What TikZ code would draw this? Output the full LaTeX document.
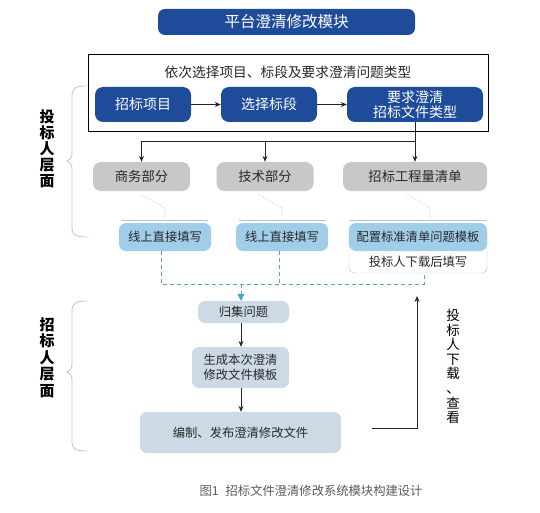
\documentclass[tikz,border=0pt]{standalone}
\usepackage{fontspec}
\setmainfont{Noto Sans CJK SC}
\usetikzlibrary{arrows.meta,calc}
\definecolor{dblue}{RGB}{30,76,154}
\definecolor{gbox}{RGB}{199,200,201}
\definecolor{lblue}{RGB}{160,206,233}
\definecolor{pbox}{RGB}{205,218,230}
\definecolor{brc}{RGB}{178,200,218}
\definecolor{dotc}{RGB}{170,200,220}
\definecolor{cyanarr}{RGB}{60,165,217}
\definecolor{dashc}{RGB}{95,160,204}
\definecolor{txtc}{RGB}{40,40,40}
\tikzset{
  titlebox/.style={fill=dblue,text=white,rounded corners=7pt,inner sep=0pt,font=\fontsize{15.5}{17}\selectfont},
  bluebox/.style={fill=dblue,text=white,rounded corners=8pt,inner sep=0pt,align=center,font=\fontsize{14}{15}\selectfont},
  graybox/.style={fill=gbox,text=txtc,rounded corners=8pt,inner sep=0pt,minimum height=29pt,font=\fontsize{13.3}{15}\selectfont},
  lightbox/.style={fill=lblue,text=txtc,rounded corners=7pt,inner sep=0pt,minimum height=28pt,font=\fontsize{12.3}{14}\selectfont},
  procbox/.style={fill=pbox,text=txtc,rounded corners=7pt,inner sep=0pt,align=center,font=\fontsize{12.3}{15.5}\selectfont},
  arr/.style={draw=black!85,line width=0.9pt,-{Stealth[length=6pt,width=5pt]}},
  dotln/.style={draw=dotc,line width=0.6pt,densely dotted},
  sepln/.style={draw=dotc,line width=0.6pt},
  dashln/.style={draw=dashc,line width=0.8pt,dash pattern=on 4pt off 3pt},
  bracestyle/.style={draw=brc,line width=0.8pt},
  vlabel/.style={align=center,inner sep=0pt,text=black},
}
\begin{document}
\begin{tikzpicture}[x=1pt,y=-1pt]
\useasboundingbox (0,0) rectangle (540,513);
% title
\node[titlebox,minimum width=257pt,minimum height=26pt] (title) at (286.5,22) {平台澄清修改模块};
% outer frame
\node[draw=black,line width=0.8pt,minimum width=400pt,minimum height=77pt,inner sep=0pt] (frame) at (288,92.5) {};
\node[inner sep=0pt,font=\fontsize{13.7}{15}\selectfont,text=txtc] (hdr) at (288,72) {依次选择项目、标段及要求澄清问题类型};
\node[bluebox,minimum width=96pt,minimum height=35pt] (b1) at (143,104.5) {招标项目};
\node[bluebox,minimum width=96pt,minimum height=35pt] (b2) at (269,104.5) {选择标段};
\node[bluebox,minimum width=136pt,minimum height=35pt,font=\fontsize{14}{14.5}\selectfont] (b3) at (415,104.5) {要求澄清\\招标文件类型};
\draw[arr] (b1) -- (b2);
\draw[arr] (b2) -- (b3);
% gray boxes
\node[graybox,minimum width=97pt] (g1) at (141.5,176.5) {商务部分};
\node[graybox,minimum width=97pt] (g2) at (265,176.5) {技术部分};
\node[graybox,minimum width=144pt] (g3) at (415,176.5) {招标工程量清单};
\coordinate (split) at (415,141);
\draw[arr] (b3.south) -- (g3.north);
\draw[line width=0.9pt,draw=black!85] (split) -- (split -| g1.north);
\draw[arr] (split -| g1.north) -- (g1.north);
\draw[arr] (split -| g2.north) -- (g2.north);
% light blue boxes
\node[draw=dotc,fill=white,rounded corners=5pt,minimum width=138pt,minimum height=43pt,inner sep=0pt] (w1) at (418,251.5) {};
\node[lightbox,minimum width=92pt] (l1) at (165,237) {线上直接填写};
\node[lightbox,minimum width=92pt] (l2) at (282,237) {线上直接填写};
\node[lightbox,minimum width=138pt] (l3) at (418,237) {配置标准清单问题模板};
\node[inner sep=0pt,text=txtc,font=\fontsize{12.3}{14}\selectfont] (dl) at (418,262) {投标人下载后填写};
% dotted links and separators
\draw[dotln] ($(g1.south)+(-1,3)$) -- (165,208) -- (165,220);
\draw[dotln] ($(g2.south)+(-7,3)$) -- (282,208) -- (282,220);
\draw[dotln] ($(g3.south)+(-8,3)$) -- (430,208) -- (430,220);
\draw[sepln] (121,220) -- (208,220);
\draw[sepln] (239,220) -- (326,220);
\draw[sepln] (349,220) -- (487,220);
% dashed collection
\coordinate (jn) at (241,284);
\draw[dashln] ([xshift=-4pt]l1.south) -- ([xshift=-4pt]l1.south |- jn) -- ([xshift=6pt]w1.south |- jn) -- ([xshift=6pt]w1.south);
\draw[dashln] ([xshift=-3pt]l2.south) -- ([xshift=-3pt]l2.south |- jn);
% bottom process
\node[procbox,minimum width=91pt,minimum height=22pt] (q1) at (243.5,312) {归集问题};
\node[procbox,minimum width=97pt,minimum height=41pt] (q2) at (240.5,367.5) {生成本次澄清\\修改文件模板};
\node[procbox,minimum width=201pt,minimum height=41pt] (q3) at (240.5,432.5) {编制、发布澄清修改文件};
\draw[dashln,-{Triangle[length=7pt,width=7pt,fill=cyanarr,color=cyanarr]}] (jn) -- (jn |- q1.north);
\draw[arr] (q1.south -| 241,0) -- (q2.north -| 241,0);
\draw[arr] (q2.south -| 241,0) -- (q3.north -| 241,0);
% feedback arrow
\coordinate (fb0) at (372,428);
\coordinate (fb1) at (417,428);
\coordinate (fb2) at (417,296);
\draw[arr,line width=0.8pt] (fb0) -- (fb1) -- (fb2);
\node[vlabel,font=\fontsize{13.5}{14.6}\selectfont] (rl) at (453,366.5) {投\\标\\人\\下\\载\\、\\查\\看};
% braces
\draw[bracestyle] (87,86) .. controls (76,86) and (72,88) .. (72,96) -- (72,153) .. controls (72,158) and (70,160) .. (67,161) .. controls (70,162) and (72,164) .. (72,169) -- (72,228) .. controls (72,235) and (76,237) .. (87,237);
\draw[bracestyle] (87,301) .. controls (76,301) and (72,303) .. (72,311) -- (72,364) .. controls (72,369) and (70,371) .. (67,372) .. controls (70,373) and (72,375) .. (72,380) -- (72,442) .. controls (72,449) and (76,451) .. (87,451);
\node[vlabel,font=\bfseries\fontsize{15}{16}\selectfont] (ll1) at (47,148.5) {投\\标\\人\\层\\面};
\node[vlabel,font=\bfseries\fontsize{15}{16.5}\selectfont] (ll2) at (47,357.5) {招\\标\\人\\层\\面};
% caption
\node[inner sep=0pt,text=black!65,font=\fontsize{12.3}{14}\selectfont] (cap) at (311,491) {图1\hspace{7pt}招标文件澄清修改系统模块构建设计};
\end{tikzpicture}
\end{document}
